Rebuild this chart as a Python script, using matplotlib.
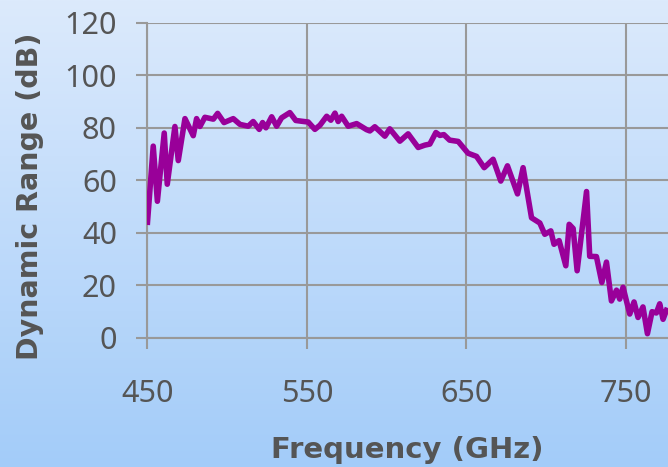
import numpy as np
import matplotlib

matplotlib.use("Agg")
import matplotlib.pyplot as plt
from matplotlib.colors import LinearSegmentedColormap

# Values
freq_ghz = [
    450, 453.6, 456.2, 460.5, 462.4, 467.2, 469.3, 473.5, 478.7, 480.8,
    482.9, 486, 491.3, 494, 498, 503.8, 508, 513.2, 516.3, 520.1,
    522.2, 524.3, 527.9, 531, 534.1, 539.3, 543, 546.7, 550.8, 555,
    558.2, 562.4, 565, 567.6, 569.6, 571.8, 575.9, 581.2, 587.4, 589.5,
    592.6, 598.9, 602, 608.3, 613.5, 619.8, 624, 627.1, 630.9, 633.4,
    635.9, 639.5, 644.9, 651.1, 656.4, 661.2, 666.8, 671.6, 675.8, 682.1,
    685.6, 690.9, 696.1, 699.2, 703, 705, 708.2, 712.4, 714.5, 717,
    719.5, 725.4, 727.4, 731.6, 735, 737.9, 741, 744.2, 746.2, 748.3,
    752.5, 755.2, 757.7, 760.8, 763.6, 766.5, 769.2, 771.3, 773.4, 775.5,
]
dyn_range_db = [
    44, 73, 52, 78, 58.5, 80.5, 67.5, 83.5, 77, 83.5,
    80.5, 84, 83.3, 85.5, 82, 83.5, 81.3, 80.6, 82.4, 79.4,
    82, 80, 84.2, 80.6, 83.8, 85.8, 82.8, 82.5, 82.2, 79.4,
    81, 84.4, 82.9, 85.6, 82.4, 84.4, 80.6, 81.6, 79.3, 78.8,
    80.4, 76.8, 79.6, 74.9, 77.7, 72.5, 73.4, 73.8, 78.2, 77.1,
    77.4, 75.3, 74.8, 70.3, 69.1, 64.8, 68, 59.7, 65.5, 54.8,
    64.8, 45.7, 43.7, 39.4, 40.7, 35.6, 37, 27.4, 43.2, 41.6,
    25.5, 55.7, 31, 30.9, 21, 28.8, 14, 18.1, 14.7, 19.2,
    9, 13.6, 7.7, 11.7, 1.5, 9.9, 9.4, 12.9, 7, 10.4,
]
x_ticks = [450, 550, 650, 750]
y_ticks = [0, 20, 40, 60, 80, 100, 120]

TXT = "#555555"
GRID = "#999999"
LINE = "#990099"
FONT = "Noto Sans"
BOLD_FONT = "DejaVu Sans"

fig = plt.figure(figsize=(6.68, 4.67), dpi=100)

# gradient background behind everything
bg = fig.add_axes([0, 0, 1, 1], zorder=-1)
cmap = LinearSegmentedColormap.from_list("bg", ["#a3ccf9", "#dceafc"])
grad = np.linspace(0, 1, 256).reshape(-1, 1)
bg.imshow(grad, aspect="auto", cmap=cmap, origin="lower", extent=[0, 1, 0, 1])
bg.set_axis_off()

ax = fig.add_axes([0.2208, 0.277, 1 - 0.2208, 0.951 - 0.277])
ax.patch.set_alpha(0)

ax.plot(freq_ghz, dyn_range_db, color=LINE, lw=4, solid_joinstyle="round", zorder=3)

ax.set_xlim(450, 776.5)
ax.set_ylim(0, 120)
ax.set_xticks(x_ticks)
ax.set_yticks(y_ticks)
ax.grid(True, color=GRID, lw=1.5)
ax.set_axisbelow(True)

for s in ("top", "right"):
    ax.spines[s].set_visible(False)
for s in ("left", "bottom"):
    ax.spines[s].set_color(GRID)
    ax.spines[s].set_linewidth(1.5)

ax.tick_params(axis="both", colors=GRID, width=1.5, length=8, labelcolor=TXT,
               labelsize=22)
ax.tick_params(axis="y", pad=14)
ax.tick_params(axis="x", pad=22)
for lab in ax.get_xticklabels() + ax.get_yticklabels():
    lab.set_fontfamily(FONT)

ax.set_xlabel("Frequency (GHz)", fontsize=21, fontweight="bold", color=TXT,
              family=BOLD_FONT, labelpad=19)
fig.text(0.045, 0.58, "Dynamic Range (dB)", rotation=90, fontsize=20.5,
         fontweight="bold", color=TXT, family=BOLD_FONT, ha="center", va="center")

fig.savefig("out.png", dpi=100)
